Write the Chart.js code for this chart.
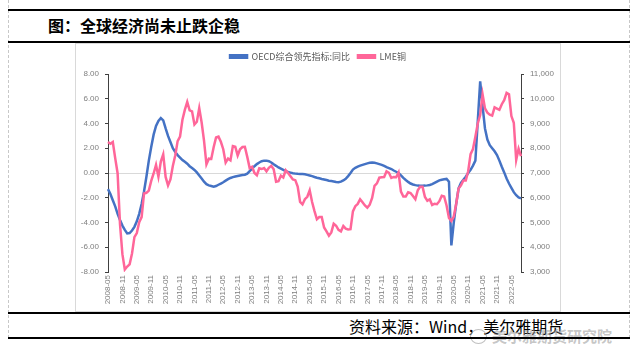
<!DOCTYPE html>
<html>
<head>
<meta charset="utf-8">
<script src="https://cdn.jsdelivr.net/npm/chart.js@4"></script>
<style>
  body { margin: 0; background: #fff; width: 637px; height: 363px; position: relative; overflow: hidden; font-family: "Noto Sans CJK SC", sans-serif; }
  .frame { position: absolute; left: 8px; top: 0; width: 620px; height: 338px; border-left: 1px dashed #c8c8c8; border-right: 1px dashed #c8c8c8; }
  .rule { position: absolute; left: 8px; width: 622px; height: 0; border-top: 2px solid #000; }
  .title { position: absolute; left: 48px; top: 14px; font-size: 16px; font-weight: 700; line-height: 22px; color: #000; }
  .box { position: absolute; left: 75px; top: 43px; width: 484px; height: 267px; border: 1px solid #d9d9d9; }
  #wrap { position: absolute; left: 76px; top: 44px; width: 484px; height: 267px; }
  .source { position: absolute; left: 349px; top: 315px; font-size: 16px; line-height: 22px; color: #000; }
  .mark { position: absolute; left: 492px; top: 326px; font-size: 15px; line-height: 20px; color: rgba(150,150,150,0.55); font-weight: 700; }
  .icon { position: absolute; left: 470px; top: 329px; width: 15px; height: 13px; border: 1px solid rgba(150,150,150,0.6); border-radius: 50%; }
</style>
</head>
<body>
<div class="frame"></div>
<div class="rule" style="top:9px"></div>
<div class="title">图：全球经济尚未止跌企稳</div>
<div class="rule" style="top:41px"></div>
<div class="box"></div>
<div id="wrap"><canvas id="chart" width="484" height="267"></canvas></div>
<div class="rule" style="top:312px"></div>
<div class="source">资料来源：Wind，美尔雅期货</div>
<div class="icon"></div>
<div class="mark">美尔雅期货研究院</div>
<div class="rule" style="top:337px"></div>
<script>
// monthly, 2008-05 .. 2022-09
const startYear = 2008, startMonth = 5, monthCount = 173;
const months = [];
for (let i = 0; i < monthCount; i++) {
  const t = startMonth - 1 + i;
  const y = startYear + Math.floor(t / 12), m = t % 12 + 1;
  months.push(y + '-' + String(m).padStart(2, '0'));
}

// OECD综合领先指标:同比 (left axis)
const oecdYoY = [
  -1.3, -1.7, -2.2, -2.7, -3.3, -3.8, -4.25, -4.6, -4.88, -4.85, -4.65, -4.35,
  -3.9, -3.3, -2.5, -1.5, -0.3, 1.0, 2.1, 3.1, 3.8, 4.2, 4.43, 4.25,
  3.6, 3.0, 2.5, 2.0, 1.7, 1.45, 1.25, 1.05, 0.9, 0.75, 0.55, 0.4,
  0.25, 0.05, -0.2, -0.45, -0.7, -0.9, -1.0, -1.05, -1.1, -1.05, -0.95, -0.85,
  -0.75, -0.62, -0.5, -0.4, -0.33, -0.28, -0.24, -0.2, -0.17, -0.14, -0.05, 0.15,
  0.35, 0.55, 0.72, 0.85, 0.95, 1.0, 1.0, 0.95, 0.85, 0.7, 0.58, 0.45,
  0.35, 0.25, 0.15, 0.08, 0.03, -0.02, -0.05, -0.07, -0.08, -0.09, -0.1, -0.15,
  -0.2, -0.25, -0.32, -0.38, -0.43, -0.48, -0.52, -0.57, -0.62, -0.65, -0.68, -0.72,
  -0.75, -0.7, -0.6, -0.47, -0.25, 0.0, 0.28, 0.42, 0.52, 0.6, 0.66, 0.72,
  0.78, 0.82, 0.84, 0.82, 0.78, 0.72, 0.66, 0.58, 0.48, 0.4, 0.32, 0.2,
  0.1, 0.0, -0.2, -0.4, -0.57, -0.72, -0.85, -0.93, -0.98, -1.02, -1.03, -1.03,
  -1.02, -1.0, -0.97, -0.9, -0.8, -0.7, -0.6, -0.54, -0.51, -0.48, -0.7, -5.85,
  -4.0, -2.5, -1.25, -0.8, -0.55, -0.3, 0.0, 0.25, 0.6, 1.0, 4.2, 7.4,
  5.4, 3.6, 2.7, 2.25, 2.0, 1.75, 1.45, 1.0, 0.5, 0.05, -0.45, -0.85,
  -1.2, -1.55, -1.8, -1.98, -2.05
];

// LME铜 (right axis)
const lmeCopper = [
  8250, 8180, 8250, 7600, 6990, 4930, 3720, 3100, 3220, 3310, 3750, 4410,
  4570, 5010, 5220, 6170, 6200, 6290, 6680, 6980, 7330, 6850, 7460, 7750,
  6840, 6500, 6740, 7280, 7710, 8290, 8470, 9150, 9550, 9870, 9530, 9490,
  8960, 9070, 9620, 9040, 8300, 7350, 7580, 7570, 8040, 8440, 8470, 8260,
  7960, 7420, 7580, 7510, 8090, 8060, 7710, 7960, 8050, 8060, 7650, 7200,
  7250, 7000, 6910, 7190, 7160, 7200, 7070, 7210, 7290, 7150, 6650, 6670,
  6890, 6820, 7110, 7000, 6870, 6740, 6710, 6450, 5830, 5730, 5940, 6040,
  6300, 5830, 5460, 5130, 5220, 5220, 4800, 4640, 4470, 4600, 4950, 4870,
  4700, 4640, 4860, 4750, 4720, 4730, 5450, 5660, 5750, 5940, 5820, 5690,
  5600, 5720, 5990, 6480, 6580, 6810, 6830, 6840, 7070, 7010, 6800, 6840,
  6830, 7020, 6250, 6050, 6050, 6220, 6190, 6070, 5940, 6300, 6440, 6440,
  6030, 5880, 5940, 5710, 5760, 5740, 5860, 6080, 6050, 5690, 5180, 5060,
  5240, 5750, 6370, 6500, 6700, 6700, 7070, 7760, 7970, 8460, 9000, 9340,
  10180, 9610, 9440, 9360, 9320, 9650, 9600, 9550, 9780, 9940, 10240, 10180,
  9300, 9030, 7530, 7980, 7680
];

const leftMin = -8, leftMax = 8, leftStep = 2;
const rightMin = 3000, rightMax = 11000, rightStep = 1000;
const labelEvery = 6;

const BLUE = '#4472C4';
const PINK = '#FF6699';
const AXIS = '#404040';
const TEXT = '#7f7f7f';

// pin legend height so the plot area sits where the original has it
const legendHeight = {
  id: 'legendHeight',
  beforeInit(chart) {
    const fit = chart.legend.fit;
    chart.legend.fit = function () {
      fit.bind(chart.legend)();
      this.height = 30;
    };
  }
};

new Chart(document.getElementById('chart'), {
  type: 'line',
  data: {
    labels: months,
    datasets: [
      { label: 'OECD综合领先指标:同比', data: oecdYoY, yAxisID: 'y', order: 1,
        borderColor: BLUE, backgroundColor: BLUE, borderWidth: 2.5, pointRadius: 0, tension: 0 },
      { label: 'LME铜', data: lmeCopper, yAxisID: 'y1', order: 0,
        borderColor: PINK, backgroundColor: PINK, borderWidth: 2.5, pointRadius: 0, tension: 0 }
    ]
  },
  options: {
    responsive: false,
    animation: false,
    layout: { padding: 0 },
    plugins: {
      tooltip: { enabled: false },
      legend: {
        display: true,
        position: 'top',
        labels: {
          boxWidth: 17, boxHeight: 2.5, padding: 8,
          color: '#595959',
          font: { size: 9, family: '"Noto Sans CJK SC", sans-serif' },
          sort: (a, b) => a.datasetIndex - b.datasetIndex
        }
      }
    },
    scales: {
      x: {
        type: 'category',
        offset: false,
        grid: { display: false, drawTicks: false },
        border: { display: false },
        afterFit(scale) { scale.height = 39; },
        ticks: {
          autoSkip: false, minRotation: 90, maxRotation: 90, padding: 3,
          color: TEXT, font: { size: 8, family: '"Liberation Sans", sans-serif' },
          callback(v, i) { return i % labelEvery === 0 ? months[i] : ''; }
        }
      },
      y: {
        position: 'left',
        min: leftMin, max: leftMax,
        afterFit(scale) { scale.width = 32; },
        border: { display: true, color: AXIS, width: 1 },
        grid: {
          color: ctx => (ctx.tick && ctx.tick.value === 0 ? '#d9d9d9' : 'rgba(0,0,0,0)'),
          tickColor: AXIS, tickLength: 3
        },
        ticks: {
          stepSize: leftStep, padding: 6,
          color: TEXT, font: { size: 8, family: '"Liberation Sans", sans-serif' },
          callback: v => v.toFixed(2)
        }
      },
      y1: {
        position: 'right',
        min: rightMin, max: rightMax,
        afterFit(scale) { scale.width = 39; },
        border: { display: true, color: AXIS, width: 1 },
        grid: { drawOnChartArea: false, tickColor: AXIS, tickLength: 3 },
        ticks: {
          stepSize: rightStep, padding: 6,
          color: TEXT, font: { size: 8, family: '"Liberation Sans", sans-serif' },
          callback: v => v.toLocaleString('en-US')
        }
      }
    }
  },
  plugins: [legendHeight]
});
</script>
</body>
</html>
